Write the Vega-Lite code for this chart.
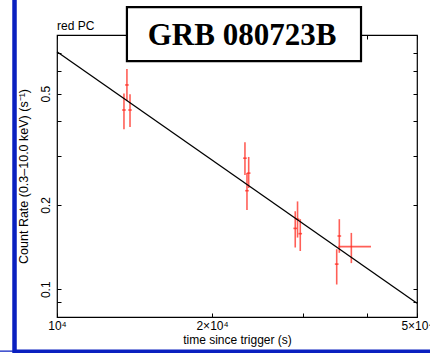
{
  "$schema": "https://vega.github.io/schema/vega-lite/v6.json",
  "width": 360,
  "height": 282,
  "autosize": "none",
  "padding": {"left": 57, "top": 35, "right": 13, "bottom": 36},
  "background": "white",
  "config": {
    "view": {"stroke": "black", "strokeWidth": 1.2},
    "axis": {"domain": false, "grid": false, "tickColor": "black", "tickSize": -4, "tickWidth": 1,
      "labelFont": "Liberation Sans", "labelFontSize": 12, "labelColor": "black",
      "titleFont": "Liberation Sans", "titleFontSize": 12, "titleFontWeight": "normal", "titleColor": "black"}
  },
  "datasets": {
    "pts": [
      {"t": 13490, "t_lo": 13380, "t_hi": 13600, "rate": 0.437, "rate_lo": 0.373, "rate_hi": 0.501},
      {"t": 13670, "t_lo": 13560, "t_hi": 13780, "rate": 0.537, "rate_lo": 0.471, "rate_hi": 0.612},
      {"t": 13860, "t_lo": 13750, "t_hi": 13970, "rate": 0.437, "rate_lo": 0.380, "rate_hi": 0.498},
      {"t": 23170, "t_lo": 22980, "t_hi": 23360, "rate": 0.294, "rate_lo": 0.256, "rate_hi": 0.335},
      {"t": 23560, "t_lo": 23370, "t_hi": 23750, "rate": 0.260, "rate_lo": 0.230, "rate_hi": 0.297},
      {"t": 23380, "t_lo": 23190, "t_hi": 23570, "rate": 0.225, "rate_lo": 0.192, "rate_hi": 0.260},
      {"t": 29010, "t_lo": 28770, "t_hi": 29250, "rate": 0.165, "rate_lo": 0.141, "rate_hi": 0.190},
      {"t": 29310, "t_lo": 29070, "t_hi": 29550, "rate": 0.178, "rate_lo": 0.153, "rate_hi": 0.206},
      {"t": 29670, "t_lo": 29430, "t_hi": 29910, "rate": 0.158, "rate_lo": 0.137, "rate_hi": 0.178},
      {"t": 34920, "t_lo": 34630, "t_hi": 35210, "rate": 0.123, "rate_lo": 0.104, "rate_hi": 0.139},
      {"t": 35330, "t_lo": 35040, "t_hi": 35620, "rate": 0.155, "rate_lo": 0.135, "rate_hi": 0.178},
      {"t": 37280, "t_lo": 35170, "t_hi": 40700, "rate": 0.142, "rate_lo": 0.124, "rate_hi": 0.159}
    ],
    "fit": [
      {"t": 10000, "rate": 0.706},
      {"t": 50000, "rate": 0.0891}
    ]
  },
  "resolve": {"axis": {"x": "independent", "y": "independent"}},
  "layer": [
    {
      "data": {"name": "pts"},
      "mark": {"type": "rule", "color": "#ff2a1f", "opacity": 0.75, "strokeWidth": 1.6},
      "encoding": {
        "x": {"field": "t", "type": "quantitative",
          "scale": {"type": "log", "domain": [10000, 50000], "nice": false},
          "axis": {"orient": "bottom", "title": "time since trigger (s)", "values": [10000, 20000, 30000, 40000, 50000],
            "labelExpr": "datum.value == 10000 ? '10⁴' : datum.value == 20000 ? '2×10⁴' : datum.value == 50000 ? '5×10⁴' : ''",
            "labelPadding": 7, "titlePadding": 3, "labelFlush": false, "labelOverlap": false}},
        "y": {"field": "rate_lo", "type": "quantitative",
          "scale": {"type": "log", "domain": [0.0796, 0.81], "nice": false},
          "axis": {"orient": "left", "title": "Count Rate (0.3–10.0 keV) (s⁻¹)", "titleFontSize": 12.5, "values": [0.09, 0.1, 0.2, 0.3, 0.4, 0.5, 0.6, 0.7],
            "labelExpr": "datum.value == 0.1 ? '0.1' : datum.value == 0.2 ? '0.2' : datum.value == 0.5 ? '0.5' : ''",
            "labelAngle": -90, "labelAlign": "center", "labelBaseline": "bottom", "labelPadding": 9, "titlePadding": 9, "labelOverlap": false}},
        "y2": {"field": "rate_hi"}
      }
    },
    {
      "data": {"name": "pts"},
      "mark": {"type": "rule", "color": "#ff2a1f", "opacity": 0.75, "strokeWidth": 1.6},
      "encoding": {
        "x": {"field": "t_lo", "type": "quantitative", "axis": null},
        "x2": {"field": "t_hi"},
        "y": {"field": "rate", "type": "quantitative", "axis": null}
      }
    },
    {
      "data": {"name": "fit"},
      "mark": {"type": "line", "color": "black", "strokeWidth": 1.3},
      "encoding": {
        "x": {"field": "t", "type": "quantitative",
          "axis": {"orient": "top", "title": null, "labels": false, "values": [10000, 20000, 30000, 40000, 50000]}},
        "y": {"field": "rate", "type": "quantitative",
          "axis": {"orient": "right", "title": null, "labels": false, "values": [0.09, 0.1, 0.2, 0.3, 0.4, 0.5, 0.6, 0.7]}}
      }
    },
    {
      "data": {"values": [{"label": "red PC"}]},
      "mark": {"type": "text", "font": "Liberation Sans", "fontSize": 12, "fill": "#000000", "align": "left", "baseline": "alphabetic"},
      "encoding": {
        "text": {"field": "label"},
        "x": {"datum": 10000, "type": "quantitative", "axis": null},
        "y": {"datum": 0.8435, "type": "quantitative", "axis": null}
      }
    },
    {
      "data": {"values": [{}]},
      "mark": {"type": "rect", "fill": "white", "stroke": "black", "strokeWidth": 2.2},
      "encoding": {
        "x": {"datum": 13670, "type": "quantitative", "axis": null},
        "x2": {"datum": 38930},
        "y": {"datum": 1.019, "type": "quantitative", "axis": null},
        "y2": {"datum": 0.6538}
      }
    },
    {
      "data": {"values": [{"label": "GRB 080723B"}]},
      "mark": {"type": "text", "font": "Liberation Serif", "fontWeight": "bold", "fontSize": 31, "fill": "#000000", "align": "center", "baseline": "alphabetic"},
      "encoding": {
        "text": {"field": "label"},
        "x": {"datum": 22870, "type": "quantitative", "axis": null},
        "y": {"datum": 0.7457, "type": "quantitative", "axis": null}
      }
    },
    {
      "data": {"values": [{}]},
      "mark": {"type": "rule", "color": "#0a20c0", "strokeWidth": 4.5},
      "encoding": {
        "x": {"datum": 8270, "type": "quantitative", "axis": null},
        "y": {"datum": 1.2, "type": "quantitative", "axis": null},
        "y2": {"datum": 0.05}
      }
    },
    {
      "data": {"values": [{}]},
      "mark": {"type": "rule", "color": "#0a20c0", "strokeWidth": 5},
      "encoding": {
        "x": {"datum": 8240, "type": "quantitative", "axis": null},
        "x2": {"datum": 60000},
        "y": {"datum": 0.0597, "type": "quantitative", "axis": null}
      }
    },
    {
      "data": {"values": [{}]},
      "mark": {"type": "rule", "color": "#0a20c0", "strokeWidth": 1.2},
      "encoding": {
        "x": {"datum": 7000, "type": "quantitative", "axis": null},
        "x2": {"datum": 8300},
        "y": {"datum": 0.0601, "type": "quantitative", "axis": null}
      }
    }
  ]
}
